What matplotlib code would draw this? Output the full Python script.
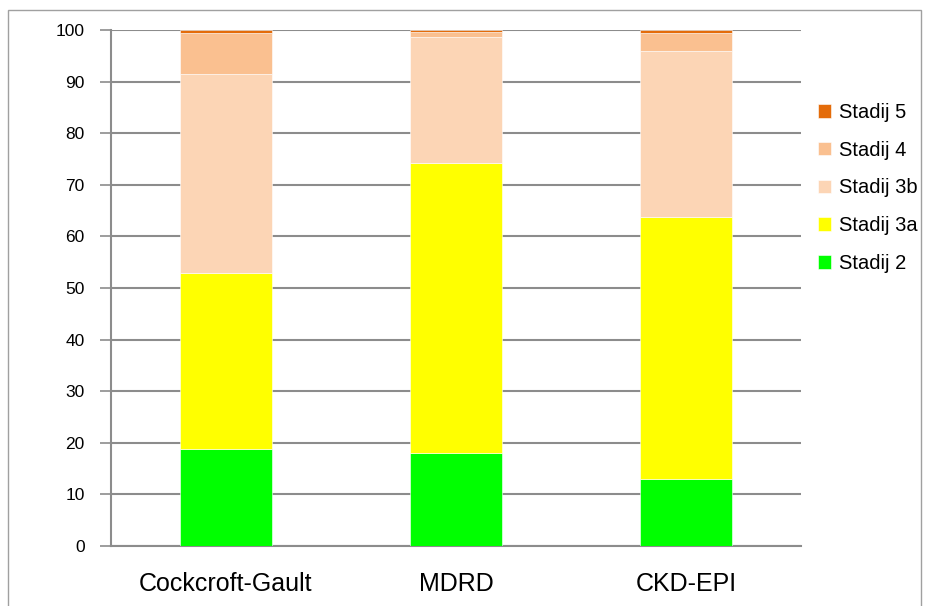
import numpy as np
import matplotlib
matplotlib.use("Agg")
import matplotlib.pyplot as plt
from matplotlib.patches import Rectangle

# categories and stacked values (% of patients per stage)
METHODS = ["Cockcroft-Gault", "MDRD", "CKD-EPI"]
STAGES = ["Stadij 2", "Stadij 3a", "Stadij 3b", "Stadij 4", "Stadij 5"]
STADIJ_2 = [18.8, 18.0, 12.9]
STADIJ_3A = [34.2, 56.3, 50.9]
STADIJ_3B = [38.5, 24.3, 32.2]
STADIJ_4 = [7.9, 1.1, 3.4]
STADIJ_5 = [0.6, 0.3, 0.6]
YTICKS = [0, 10, 20, 30, 40, 50, 60, 70, 80, 90, 100]

COLORS = ["#00FF00", "#FFFF00", "#FCD5B5", "#FAC090", "#E46C0A"]
GRID = "#8C8C8C"
FONT = "Liberation Sans"

fig = plt.figure(figsize=(9.28, 6.06), dpi=100)
ax = fig.add_axes([0.1196, 0.099, 0.7435, 0.8515])

# outer chart frame
fig.patches.append(Rectangle((8 / 928, -0.05), 913 / 928, 1.05 - 10 / 606,
                             transform=fig.transFigure, fill=False,
                             edgecolor="#A0A0A0", lw=1.0))

series = [STADIJ_2, STADIJ_3A, STADIJ_3B, STADIJ_4, STADIJ_5]
x = np.arange(len(METHODS))
bottom = np.zeros(len(METHODS))
handles = []
for vals, col, lab in zip(series, COLORS, STAGES):
    b = ax.bar(x, vals, width=0.4, bottom=bottom, color=col,
               edgecolor="white", linewidth=0.4, label=lab, zorder=3)
    handles.append(b)
    bottom += np.array(vals)

ax.set_xlim(-0.5, 2.5)
ax.set_ylim(0, 100)
ax.set_yticks(YTICKS)
ax.set_yticklabels([str(t) for t in YTICKS], fontsize=12.5, family=FONT)
ax.set_xticks(x)
ax.set_xticklabels(METHODS, fontsize=18, family=FONT)
ax.tick_params(axis="x", length=0, pad=19)
ax.tick_params(axis="y", length=8, width=1.2, color=GRID, pad=11)

ax.yaxis.grid(True, color=GRID, lw=1.5, zorder=0)
ax.set_axisbelow(True)
for s in ["top", "right"]:
    ax.spines[s].set_visible(False)
for s in ["left", "bottom"]:
    ax.spines[s].set_color(GRID)
    ax.spines[s].set_linewidth(1.5)

leg = fig.legend(handles[::-1], STAGES[::-1], loc="upper left",
                 bbox_to_anchor=(818 / 928, 1 - 103 / 606),
                 bbox_transform=fig.transFigure, frameon=False,
                 prop={"family": FONT, "size": 14.5},
                 handlelength=0.65, handleheight=0.65, handletextpad=0.4,
                 labelspacing=0.93, borderaxespad=0, borderpad=0)

fig.savefig("out.png", dpi=100)
